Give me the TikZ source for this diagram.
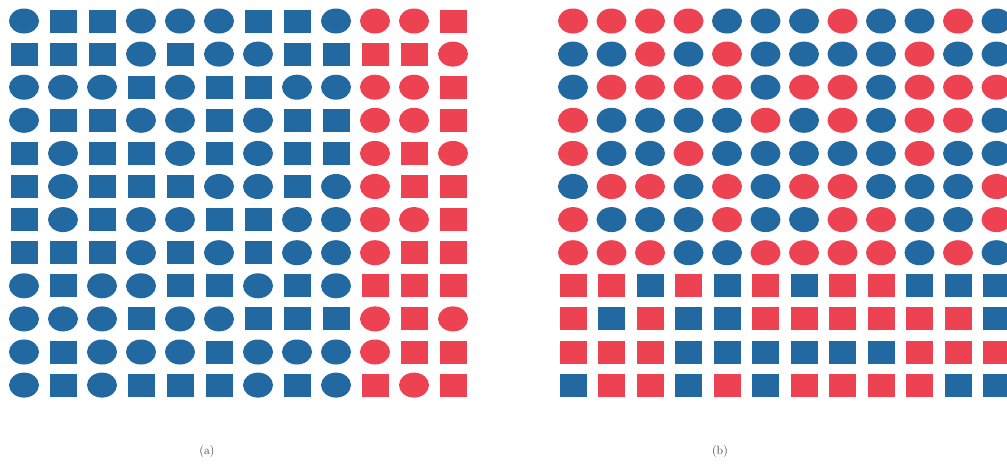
\documentclass[tikz,border=0pt]{standalone}
\usetikzlibrary{shapes.geometric}
\definecolor{myblue}{RGB}{33,105,160}
\definecolor{myred}{RGB}{236,66,82}
\begin{document}
\begin{tikzpicture}[x=1pt,y=-1pt,
  shC/.style={ellipse, minimum width=30pt, minimum height=25pt, inner sep=0pt, draw=none},
  shS/.style={rectangle, minimum width=27pt, minimum height=23pt, inner sep=0pt, draw=none},
  captext/.style={font=\fontsize{12}{14}\selectfont, text=black!75}]
\useasboundingbox (0,0) rectangle (1007,466);
\begin{scope}
\clip (0,0) rectangle (1007,466);
% grid (a): shapes per row, columns 10-12 red
\foreach \row [count=\r] in {
 {C,S,S,C,C,C,S,S,C,C,C,S},
 {S,S,S,C,S,C,C,S,S,S,S,C},
 {C,C,C,S,C,S,S,C,C,C,C,S},
 {C,S,S,C,C,S,C,S,S,C,C,S},
 {S,C,S,S,C,S,C,S,S,C,S,C},
 {S,C,S,S,S,C,C,S,C,C,S,S},
 {S,C,S,C,C,S,S,C,C,C,C,S},
 {S,S,S,C,S,C,S,C,C,C,S,S},
 {C,S,C,C,S,S,C,S,C,S,S,S},
 {C,C,C,S,C,C,S,S,S,C,S,C},
 {C,S,C,C,C,S,C,C,C,C,S,S},
 {C,S,C,S,S,S,C,S,C,S,C,S}} {
  \foreach \k [count=\c] in \row {
    \ifnum\c>9 \def\colr{myred}\else\def\colr{myblue}\fi
    \node[sh\k, fill=\colr] (a\r-\c) at ({24+39*(\c-1)},{21+33.1*(\r-1)}) {};
  }
}
% grid (b): colours per row, rows 1-8 circles, 9-12 squares
\foreach \row [count=\r] in {
 {R,R,R,R,B,B,B,R,B,B,R,B},
 {B,B,R,B,R,B,B,B,B,R,B,B},
 {B,R,R,R,R,B,R,R,B,R,R,R},
 {R,B,B,B,B,R,B,R,B,R,R,B},
 {R,B,B,R,B,B,B,B,B,R,B,B},
 {B,R,R,B,R,B,R,R,B,B,B,R},
 {R,B,B,B,R,B,B,R,R,B,B,R},
 {R,R,R,B,B,R,R,R,R,B,R,B},
 {R,R,B,R,B,R,B,R,R,B,B,B},
 {R,B,R,B,B,R,R,R,R,R,R,B},
 {R,R,R,B,B,B,B,B,B,R,R,R},
 {B,R,R,B,R,B,R,R,R,R,B,B}} {
  \foreach \k [count=\c] in \row {
    \if\k R\def\colr{myred}\else\def\colr{myblue}\fi
    \ifnum\r>8 \def\shp{shS}\else\def\shp{shC}\fi
    \node[\shp, fill=\colr] (b\r-\c) at ({573+38.5*(\c-1)},{21+33.1*(\r-1)}) {};
  }
}
\end{scope}
\node[captext] (capa) at (207,451) {(a)};
\node[captext] (capb) at (720,451) {(b)};
\end{tikzpicture}
\end{document}
